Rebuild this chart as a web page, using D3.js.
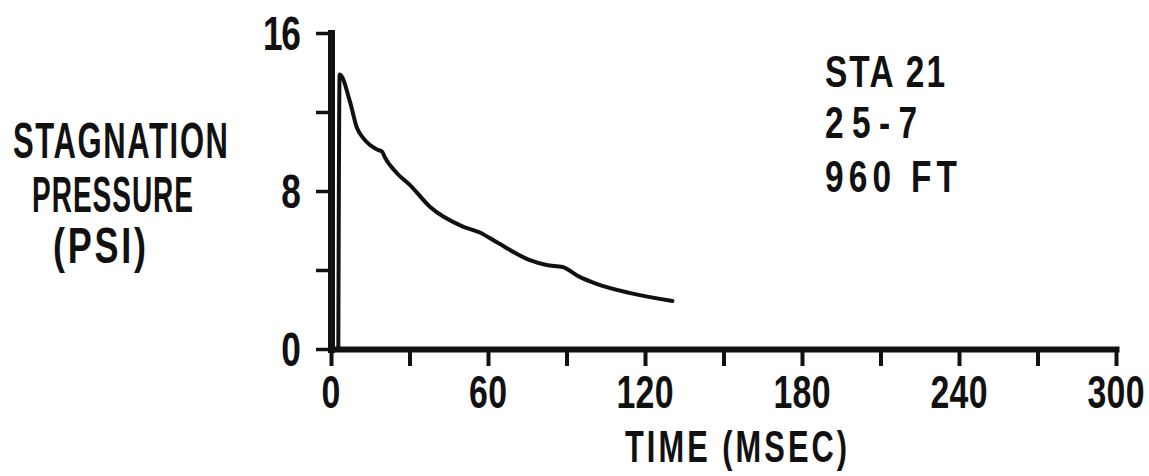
<!DOCTYPE html>
<html>
<head>
<meta charset="utf-8">
<script src="https://cdn.jsdelivr.net/npm/d3@7"></script>
<style>
  html, body { margin: 0; padding: 0; background: #fff; }
  svg { display: block; }
  text { font-family: "Liberation Sans", Arial, sans-serif; font-weight: bold; fill: #111; }
</style>
</head>
<body>
<svg id="chart" width="1149" height="476"></svg>
<script>
// Stagnation pressure record, station 21, shot 25-7, 960 ft
const timeMs   = [2.8, 3.3, 7.3, 9.9, 12.2, 17.6, 19.5, 20.6, 25.2, 30.2, 37.8, 50.4, 56.9, 63.4, 76.0, 82.4, 88.5, 95.0, 101.5, 114.0, 130.5];
const pressure = [0.0, 13.9, 12.5, 11.2, 10.7, 10.1, 10.0, 9.7, 8.9, 8.3, 7.2, 6.2, 5.9, 5.4, 4.5, 4.25, 4.15, 3.65, 3.3, 2.84, 2.43];

const xTicks = [0, 30, 60, 90, 120, 150, 180, 210, 240, 270, 300];
const xTickLabels = [0, 60, 120, 180, 240, 300];
const yTicks = [0, 4, 8, 12, 16];
const yTickLabels = [0, 8, 16];

const yTitle = ["STAGNATION", "PRESSURE", "(PSI)"];
const xTitle = "TIME (MSEC)";
const noteLines = ["STA 21", "25-7", "960 FT"];

const svg = d3.select("#chart");
const x = d3.scaleLinear().domain([0, 300]).range([331, 1116]);
const y = d3.scaleLinear().domain([0, 16]).range([349, 33]);

// stencil-style lettering: narrowed glyphs, spread out to a set width
function letter(sel, str, px, py, size, width, sx, anchor) {
  const g = sel.append("g").attr("transform", `translate(${px},${py}) scale(${sx},1)`);
  return g.append("text")
    .attr("font-size", size)
    .attr("text-anchor", anchor || "start")
    .attr("textLength", width / sx)
    .attr("lengthAdjust", "spacing")
    .text(str);
}

// y axis
const yAxis = svg.append("g")
  .attr("transform", `translate(${x(0)},0)`)
  .call(d3.axisLeft(y).tickValues(yTicks).tickSize(15).tickSizeOuter(0).tickFormat(""));
yAxis.select(".domain").attr("stroke", "#111").attr("stroke-width", 7).attr("stroke-linecap", "square");
yAxis.selectAll(".tick line").attr("stroke", "#111").attr("stroke-width", 3.5);
yTickLabels.forEach(v => {
  const s = String(v);
  letter(svg, s, 301, y(v) + 17, 49, s.length * 19, 0.72, "end");
});

// x axis
const xAxis = svg.append("g")
  .attr("transform", `translate(0,${y(0)})`)
  .call(d3.axisBottom(x).tickValues(xTicks).tickSize(17).tickSizeOuter(0).tickFormat(""));
xAxis.select(".domain").attr("stroke", "#111").attr("stroke-width", 6).attr("stroke-linecap", "square");
xAxis.selectAll(".tick line").attr("stroke", "#111").attr("stroke-width", 4);
xTickLabels.forEach(v => {
  const s = String(v);
  letter(svg, s, x(v), y(0) + 59, 47, s.length * 19, 0.72, "middle");
});

// pressure trace
const line = d3.line().x((d, i) => x(timeMs[i])).y(d => y(d)).curve(d3.curveMonotoneX);
svg.append("path")
  .datum(pressure)
  .attr("d", line)
  .attr("fill", "none")
  .attr("stroke", "#111")
  .attr("stroke-width", 4)
  .attr("stroke-linejoin", "round")
  .attr("stroke-linecap", "round");

// axis titles
const titleWidths = [215, 161, 93];
const titleX = [13, 32, 53];
const titleY = [158, 212, 263];
const titleSX = [0.62, 0.56, 0.72];
yTitle.forEach((s, i) => letter(svg, s, titleX[i], titleY[i], 50, titleWidths[i], titleSX[i]));
letter(svg, xTitle, 625, 462, 44, 222, 0.7);

// shot annotation
const noteWidths = [120, 92, 132];
const noteY = [87, 138, 192];
noteLines.forEach((s, i) => letter(svg, s, 825, noteY[i], 44, noteWidths[i], 0.76));
</script>
</body>
</html>
